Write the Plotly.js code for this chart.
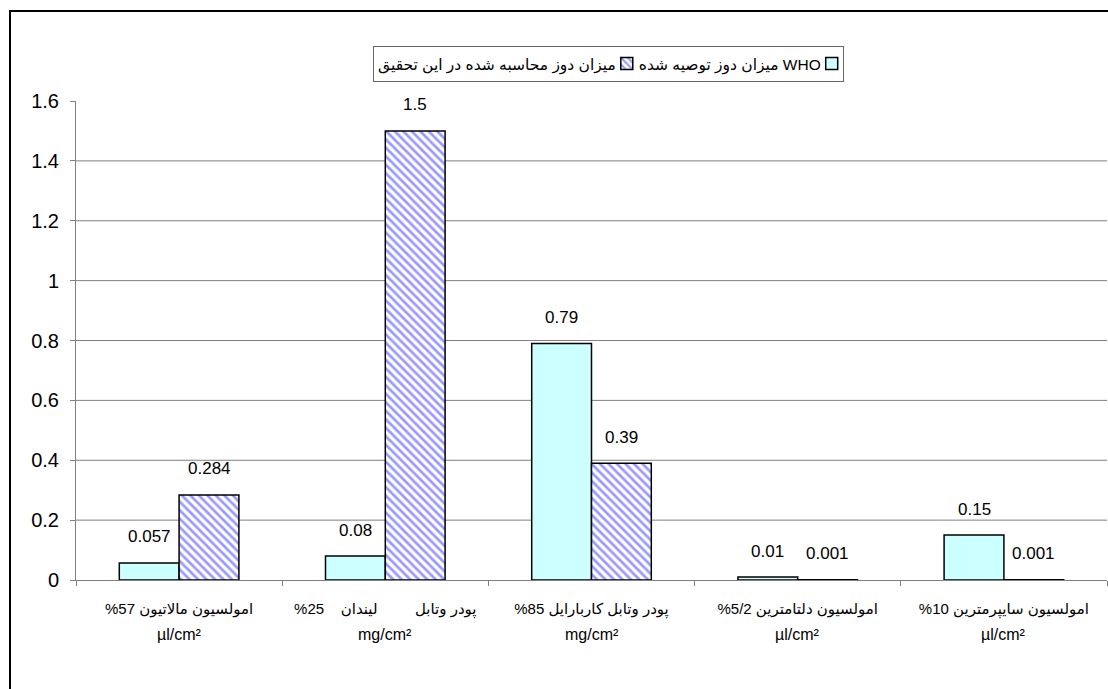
<!DOCTYPE html>
<html>
<head>
<meta charset="utf-8">
<script src="https://cdn.plot.ly/plotly-3.0.1.min.js"></script>
<style>
html, body { margin: 0; padding: 0; background: #ffffff; }
#chart { position: absolute; left: 0; top: 0; width: 1108px; height: 689px; }
#frame { position: absolute; left: 9px; top: 10px; width: 1300px; height: 900px;
         border-left: 2px solid #000; border-top: 2px solid #000; pointer-events: none; z-index: 10; }
</style>
</head>
<body>
<div id="chart"></div>
<div id="frame"></div>
<script>
// ---------- data ----------
const NB = '\u00A0';
const categories = [
  'امولسیون مالاتیون 57%',
  'پودر وتابل' + NB.repeat(9) + 'لیندان' + NB.repeat(4) + '25%',
  'پودر وتابل کاربارایل 85%',
  'امولسیون دلتامترین 5/2%',
  'امولسیون سایپرمترین 10%'
];
const unitLabels = ['µl/cm²', 'mg/cm²', 'mg/cm²', 'µl/cm²', 'µl/cm²'];
const seriesNames = ['میزان دوز توصیه شده WHO', 'میزان دوز محاسبه شده در این تحقیق'];
const whoDose = [0.057, 0.08, 0.79, 0.01, 0.15];
const studyDose = [0.284, 1.5, 0.39, 0.001, 0.001];
const whoText = ['0.057', '0.08', '0.79', '0.01', '0.15'];
const studyText = ['0.284', '1.5', '0.39', '0.001', '0.001'];
const yTicks = [0, 0.2, 0.4, 0.6, 0.8, 1, 1.2, 1.4, 1.6];
const yTickText = ['0', '0.2', '0.4', '0.6', '0.8', '1', '1.2', '1.4', '1.6'];

// ---------- styling ----------
const FONT = 'Arial, "Liberation Sans", "DejaVu Sans", sans-serif';
const BARGAP = 0.42;
const rtl = s => '\u202B' + s + '\u202C';
const catDisplay = categories.map(rtl);

const traces = [
  {
    type: 'bar', name: seriesNames[0], x: catDisplay, y: whoDose,
    marker: { color: '#CCFFFF', line: { color: '#000000', width: 1.5 } },
    hoverinfo: 'skip'
  },
  {
    type: 'bar', name: seriesNames[1], x: catDisplay, y: studyDose,
    marker: {
      color: '#FFFFFF',
      line: { color: '#000000', width: 1.5 },
      pattern: { shape: '\\', fgcolor: '#9999FF', bgcolor: '#FFFFFF', size: 6, solidity: 0.45 }
    },
    hoverinfo: 'skip'
  }
];

const barOffset = (1 - BARGAP) / 4;
const annotations = [];
categories.forEach((c, i) => {
  annotations.push({ x: i - barOffset, y: whoDose[i], xref: 'x', yref: 'y', text: whoText[i],
    showarrow: false, yanchor: 'middle', yshift: 26, font: { family: FONT, size: 17, color: '#000' } });
  annotations.push({ x: i + barOffset, y: studyDose[i], xref: 'x', yref: 'y', text: studyText[i],
    showarrow: false, yanchor: 'middle', yshift: 26, font: { family: FONT, size: 17, color: '#000' } });
  annotations.push({ x: i, y: 0, xref: 'x', yref: 'paper', text: unitLabels[i],
    showarrow: false, yanchor: 'middle', yshift: -54, font: { family: FONT, size: 16, color: '#000' } });
});

const yMax = yTicks[yTicks.length - 1];
const shapes = yTicks.filter(v => v > 0 && v < yMax).map(v => ({
  type: 'line', xref: 'paper', x0: 0, x1: 1, yref: 'y', y0: v, y1: v,
  line: { color: '#808080', width: 1 }, layer: 'below'
}));

const layout = {
  width: 1108, height: 689,
  margin: { l: 76, r: 1, t: 101, b: 109 },
  paper_bgcolor: '#FFFFFF', plot_bgcolor: '#FFFFFF',
  font: { family: FONT, color: '#000' },
  barmode: 'group', bargap: BARGAP, bargroupgap: 0,
  showlegend: true,
  legend: {
    orientation: 'h', traceorder: 'reversed',
    x: 0.2881, xanchor: 'left', y: 1.1148, yanchor: 'top',
    bordercolor: '#666666', borderwidth: 1, bgcolor: '#FFFFFF',
    font: { family: FONT, size: 15.5, color: '#000' }
  },
  xaxis: {
    type: 'category', tickson: 'boundaries', ticks: 'outside', ticklen: 5,
    tickcolor: '#808080', showline: true, linecolor: '#808080', linewidth: 1,
    showgrid: false, zeroline: false, tickangle: 0, automargin: false,
    ticklabelstandoff: 15,
    tickfont: { family: FONT, size: 15, color: '#000' }
  },
  yaxis: {
    range: [0, yMax], tickmode: 'array', tickvals: yTicks, ticktext: yTickText,
    ticks: 'outside', ticklen: 5, tickcolor: '#808080',
    showline: true, linecolor: '#808080', linewidth: 1,
    showgrid: false, zeroline: false, automargin: false,
    ticklabelstandoff: 7,
    tickfont: { family: FONT, size: 20, color: '#000' }
  },
  annotations: annotations,
  shapes: shapes
};

// right-to-left legend entries: each swatch sits on the right of its text, packed tightly
function rtlLegend(gd) {
  const LPAD = 5, TGAP = 5, SW = 12, IGAP = 6, RPAD = 5;
  try {
    const legend = gd.querySelector('g.legend');
    if (!legend) return;
    const items = [...legend.querySelectorAll('g.traces')].map(g => {
      const m = /translate\(\s*([-\d.e]+)[ ,]+([-\d.e]+)/.exec(g.getAttribute('transform') || '');
      return { g, x: m ? +m[1] : 0, y: m ? +m[2] : 0 };
    }).sort((a, b) => a.x - b.x);
    let cursor = LPAD;
    items.forEach(it => {
      const t = it.g.querySelector('text.legendtext');
      const layers = it.g.querySelector('g.layers');
      if (!t || !layers) return;
      const w = t.getComputedTextLength();
      it.g.setAttribute('transform', 'translate(' + cursor + ',' + it.y + ')');
      t.setAttribute('x', 0);
      layers.setAttribute('transform', 'translate(' + (w + TGAP + SW / 2 - 20) + ',0)');
      cursor += w + TGAP + SW + IGAP;
    });
    const bg = legend.querySelector('rect.bg');
    if (bg) bg.setAttribute('width', cursor - IGAP + RPAD);
  } catch (e) {}
}

Plotly.newPlot('chart', traces, layout, { staticPlot: true, displayModeBar: false }).then(gd => {
  rtlLegend(gd);
});
</script>
</body>
</html>
